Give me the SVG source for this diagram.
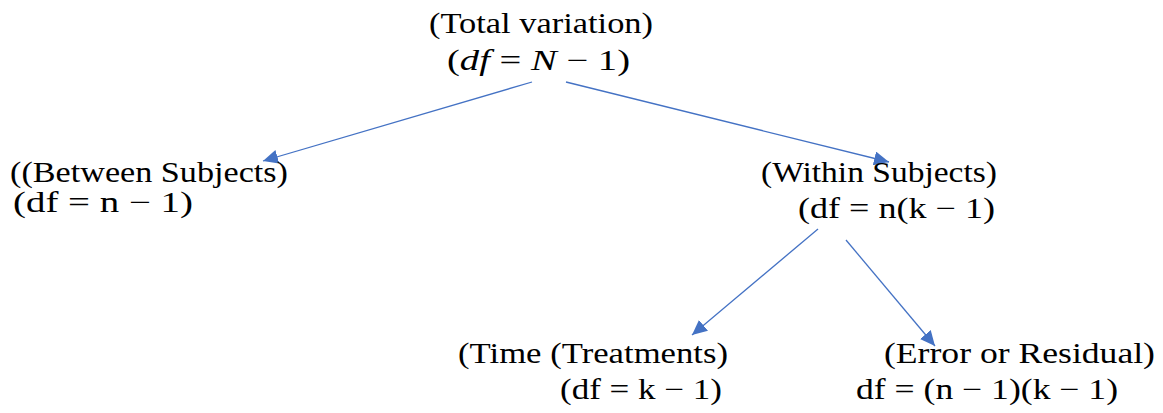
<svg xmlns="http://www.w3.org/2000/svg" width="1163" height="413" viewBox="0 0 1163 413">
<style>
.t{font-family:"Liberation Serif","DejaVu Serif",serif;font-size:29px;fill:#000}
.i{font-style:italic}
.c{stroke:#4472C4;stroke-width:1.3;fill:none}
</style>
<defs>
<marker id="ah" markerUnits="userSpaceOnUse" markerWidth="16" markerHeight="14" refX="15" refY="7" orient="auto">
<path d="M0,0 L15,7 L0,14 z" fill="#4472C4"/>
</marker>
</defs>
<rect width="1163" height="413" fill="#fff"/>
<g id="connectors">
<line class="c" x1="532" y1="82" x2="263" y2="161" marker-end="url(#ah)"/>
<line class="c" x1="566" y1="82" x2="889" y2="162" marker-end="url(#ah)"/>
<line class="c" x1="818" y1="229" x2="692" y2="335" marker-end="url(#ah)"/>
<line class="c" x1="846" y1="240" x2="935" y2="346" marker-end="url(#ah)"/>
</g>
<g id="total">
<text class="t" x="429" y="33" textLength="224" lengthAdjust="spacingAndGlyphs">(Total variation)</text>
<text class="t" x="447" y="70" textLength="183" lengthAdjust="spacingAndGlyphs">(<tspan class="i">df</tspan> = <tspan class="i">N</tspan> − 1)</text>
</g>
<g id="between">
<text class="t" x="10" y="182" textLength="278" lengthAdjust="spacingAndGlyphs">((Between Subjects)</text>
<text class="t" x="13" y="212" textLength="180" lengthAdjust="spacingAndGlyphs">(df  =  n − 1)</text>
</g>
<g id="within">
<text class="t" x="761" y="182" textLength="236" lengthAdjust="spacingAndGlyphs">(Within Subjects)</text>
<text class="t" x="798" y="218" textLength="197" lengthAdjust="spacingAndGlyphs">(df = n(k − 1)</text>
</g>
<g id="time">
<text class="t" x="458" y="363" textLength="270" lengthAdjust="spacingAndGlyphs">(Time (Treatments)</text>
<text class="t" x="560" y="399" textLength="162" lengthAdjust="spacingAndGlyphs">(df = k − 1)</text>
</g>
<g id="error">
<text class="t" x="884" y="363" textLength="271" lengthAdjust="spacingAndGlyphs">(Error or Residual)</text>
<text class="t" x="856" y="399" textLength="262" lengthAdjust="spacingAndGlyphs">df = (n − 1)(k − 1)</text>
</g>
</svg>
